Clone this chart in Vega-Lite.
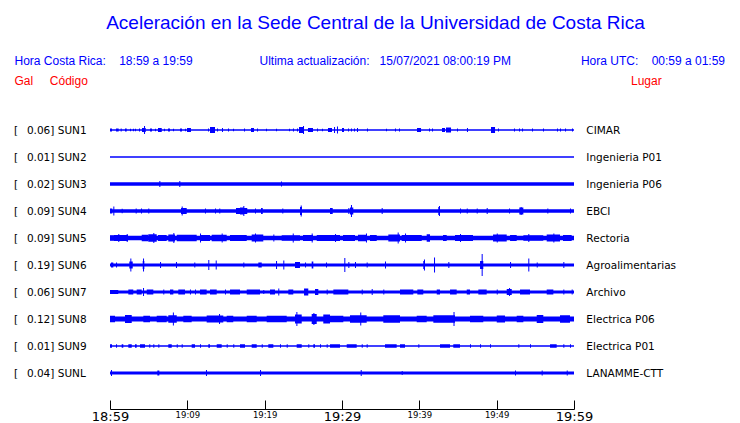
{
  "$schema": "https://vega.github.io/schema/vega-lite/v6.json",
  "width": 464,
  "height": 306,
  "autosize": {"type": "none"},
  "padding": {"left": 110, "right": 166, "top": 103, "bottom": 14},
  "background": "white",
  "config": {"view": {"stroke": null}},
  "title": {"text": "Aceleración en la Sede Central de la Universidad de Costa Rica", "anchor": "middle", "frame": "group", "dx": 33.5, "offset": 7, "baseline": "alphabetic", "font": "Liberation Sans", "fontSize": 19, "fontWeight": "normal", "color": "#0000ff"},
  "datasets": {
    "stations": [
      {"n": 1, "code": "SUN1", "gal": 0.06, "lugar": "CIMAR", "noise": 1.5},
      {"n": 2, "code": "SUN2", "gal": 0.01, "lugar": "Ingenieria P01", "noise": 1.5},
      {"n": 3, "code": "SUN3", "gal": 0.02, "lugar": "Ingenieria P06", "noise": 3.5},
      {"n": 4, "code": "SUN4", "gal": 0.09, "lugar": "EBCI", "noise": 3.5},
      {"n": 5, "code": "SUN5", "gal": 0.09, "lugar": "Rectoria", "noise": 4.5},
      {"n": 6, "code": "SUN6", "gal": 0.19, "lugar": "Agroalimentarias", "noise": 3},
      {"n": 7, "code": "SUN7", "gal": 0.06, "lugar": "Archivo", "noise": 3},
      {"n": 8, "code": "SUN8", "gal": 0.12, "lugar": "Electrica P06", "noise": 5},
      {"n": 9, "code": "SUN9", "gal": 0.01, "lugar": "Electrica P01", "noise": 1.5},
      {"n": 10, "code": "SUNL", "gal": 0.04, "lugar": "LANAMME-CTT", "noise": 3}
    ],
    "traces": [
      {"s":"SUN1","t":0,"t2":0.26,"a":3},{"s":"SUN1","t":0.78,"t2":1.12,"a":3},{"s":"SUN1","t":1.38,"t2":1.51,"a":3},{"s":"SUN1","t":1.94,"t2":2.16,"a":3},{"s":"SUN1","t":2.59,"t2":2.72,"a":2.5},{"s":"SUN1","t":2.97,"t2":3.1,"a":2.5},{"s":"SUN1","t":3.23,"t2":3.36,"a":2.5},{"s":"SUN1","t":3.75,"t2":3.88,"a":3},{"s":"SUN1","t":4.14,"t2":4.62,"a":4},{"s":"SUN1","t":4.4,"t2":4.53,"a":8},{"s":"SUN1","t":5.17,"t2":5.43,"a":3},{"s":"SUN1","t":5.82,"t2":5.95,"a":2.5},{"s":"SUN1","t":6.21,"t2":6.69,"a":4},{"s":"SUN1","t":6.98,"t2":7.11,"a":2.5},{"s":"SUN1","t":7.5,"t2":7.76,"a":3},{"s":"SUN1","t":8.15,"t2":8.28,"a":2.5},{"s":"SUN1","t":9.05,"t2":9.31,"a":3},{"s":"SUN1","t":9.7,"t2":9.83,"a":2.5},{"s":"SUN1","t":9.96,"t2":10.47,"a":4},{"s":"SUN1","t":12.67,"t2":12.8,"a":3},{"s":"SUN1","t":12.93,"t2":13.58,"a":6},{"s":"SUN1","t":13.84,"t2":13.97,"a":3},{"s":"SUN1","t":14.48,"t2":14.61,"a":4},{"s":"SUN1","t":15.26,"t2":15.39,"a":3},{"s":"SUN1","t":15.91,"t2":16.04,"a":2.5},{"s":"SUN1","t":17.33,"t2":17.46,"a":3},{"s":"SUN1","t":18.23,"t2":18.62,"a":4},{"s":"SUN1","t":19.01,"t2":19.14,"a":3},{"s":"SUN1","t":20.17,"t2":20.3,"a":2.5},{"s":"SUN1","t":21.47,"t2":21.6,"a":2.5},{"s":"SUN1","t":23.15,"t2":23.28,"a":2.5},{"s":"SUN1","t":23.66,"t2":23.79,"a":3},{"s":"SUN1","t":24.18,"t2":24.31,"a":3},{"s":"SUN1","t":24.44,"t2":25.09,"a":6},{"s":"SUN1","t":24.96,"t2":25.09,"a":8},{"s":"SUN1","t":25.6,"t2":26.25,"a":4},{"s":"SUN1","t":26.77,"t2":26.9,"a":3},{"s":"SUN1","t":27.41,"t2":27.54,"a":2.5},{"s":"SUN1","t":28.19,"t2":28.71,"a":4},{"s":"SUN1","t":28.97,"t2":29.1,"a":6},{"s":"SUN1","t":29.35,"t2":29.48,"a":7},{"s":"SUN1","t":30,"t2":30.26,"a":4},{"s":"SUN1","t":30.78,"t2":30.91,"a":3},{"s":"SUN1","t":31.16,"t2":31.29,"a":3},{"s":"SUN1","t":31.55,"t2":31.68,"a":3},{"s":"SUN1","t":31.94,"t2":32.07,"a":4},{"s":"SUN1","t":33.23,"t2":33.36,"a":3},{"s":"SUN1","t":35.69,"t2":35.82,"a":2.5},{"s":"SUN1","t":36.85,"t2":36.98,"a":3},{"s":"SUN1","t":37.37,"t2":37.5,"a":3},{"s":"SUN1","t":39.7,"t2":40.22,"a":4},{"s":"SUN1","t":41.25,"t2":41.38,"a":3},{"s":"SUN1","t":41.64,"t2":41.77,"a":3},{"s":"SUN1","t":42.93,"t2":43.32,"a":4},{"s":"SUN1","t":43.45,"t2":44.1,"a":5},{"s":"SUN1","t":44.87,"t2":45,"a":3},{"s":"SUN1","t":46.16,"t2":46.29,"a":4},{"s":"SUN1","t":49.27,"t2":49.79,"a":6},{"s":"SUN1","t":50.17,"t2":50.3,"a":3},{"s":"SUN1","t":52.24,"t2":52.37,"a":3},{"s":"SUN1","t":52.89,"t2":53.02,"a":3},{"s":"SUN1","t":53.28,"t2":53.41,"a":3},{"s":"SUN1","t":54.57,"t2":54.7,"a":3},{"s":"SUN1","t":55.99,"t2":56.12,"a":3},{"s":"SUN1","t":57.8,"t2":57.93,"a":3},{"s":"SUN1","t":58.19,"t2":58.32,"a":3},{"s":"SUN1","t":58.84,"t2":58.97,"a":3},{"s":"SUN1","t":59.74,"t2":59.87,"a":3},
      {"s":"SUN3","t":6.38,"t2":6.51,"a":6},{"s":"SUN3","t":8.96,"t2":9.09,"a":6},{"s":"SUN3","t":22.11,"t2":22.24,"a":5},
      {"s":"SUN4","t":0,"t2":0.3,"a":5},{"s":"SUN4","t":0.43,"t2":0.56,"a":9},{"s":"SUN4","t":1.51,"t2":1.64,"a":4.5},{"s":"SUN4","t":3.32,"t2":3.45,"a":5},{"s":"SUN4","t":4.01,"t2":4.14,"a":5},{"s":"SUN4","t":4.95,"t2":5.08,"a":5},{"s":"SUN4","t":9.18,"t2":9.92,"a":6},{"s":"SUN4","t":9.27,"t2":9.4,"a":9},{"s":"SUN4","t":12.28,"t2":12.41,"a":5},{"s":"SUN4","t":13.58,"t2":13.71,"a":5},{"s":"SUN4","t":14.13,"t2":14.26,"a":5},{"s":"SUN4","t":16.29,"t2":17.75,"a":6},{"s":"SUN4","t":16.81,"t2":17.33,"a":7},{"s":"SUN4","t":17.24,"t2":17.37,"a":10},{"s":"SUN4","t":18.75,"t2":18.88,"a":5},{"s":"SUN4","t":19.53,"t2":19.75,"a":6},{"s":"SUN4","t":22.28,"t2":22.41,"a":5},{"s":"SUN4","t":24.57,"t2":24.83,"a":8},{"s":"SUN4","t":24.66,"t2":24.79,"a":11},{"s":"SUN4","t":28.45,"t2":28.8,"a":6},{"s":"SUN4","t":30.82,"t2":30.95,"a":6},{"s":"SUN4","t":31.03,"t2":31.46,"a":7},{"s":"SUN4","t":31.16,"t2":31.29,"a":12},{"s":"SUN4","t":35.13,"t2":35.26,"a":6},{"s":"SUN4","t":42.45,"t2":42.67,"a":8},{"s":"SUN4","t":42.54,"t2":42.67,"a":10},{"s":"SUN4","t":45.26,"t2":45.39,"a":5},{"s":"SUN4","t":46.13,"t2":46.26,"a":5},{"s":"SUN4","t":47.42,"t2":47.55,"a":5},{"s":"SUN4","t":48.71,"t2":48.84,"a":6},{"s":"SUN4","t":51.6,"t2":51.73,"a":5},{"s":"SUN4","t":52.93,"t2":53.45,"a":7},{"s":"SUN4","t":53.1,"t2":53.23,"a":8},{"s":"SUN4","t":56.55,"t2":56.68,"a":5},{"s":"SUN4","t":59.48,"t2":59.61,"a":5},
      {"s":"SUN5","t":0,"t2":0.43,"a":5.5},{"s":"SUN5","t":0.43,"t2":2.33,"a":6},{"s":"SUN5","t":4.1,"t2":4.95,"a":6.5},{"s":"SUN5","t":4.95,"t2":6.04,"a":7.5},{"s":"SUN5","t":5.6,"t2":5.73,"a":10},{"s":"SUN5","t":6.21,"t2":7.33,"a":6},{"s":"SUN5","t":7.54,"t2":8.41,"a":7},{"s":"SUN5","t":8.19,"t2":8.32,"a":10},{"s":"SUN5","t":8.63,"t2":11.21,"a":6.5},{"s":"SUN5","t":11.64,"t2":12.93,"a":6},{"s":"SUN5","t":13.15,"t2":15.09,"a":6.5},{"s":"SUN5","t":15.52,"t2":17.68,"a":6},{"s":"SUN5","t":18.32,"t2":19.82,"a":7},{"s":"SUN5","t":21.12,"t2":21.25,"a":7},{"s":"SUN5","t":22.2,"t2":24.57,"a":5.5},{"s":"SUN5","t":23.63,"t2":23.76,"a":9},{"s":"SUN5","t":24.96,"t2":26.25,"a":6},{"s":"SUN5","t":26.73,"t2":29.74,"a":6},{"s":"SUN5","t":29.1,"t2":29.23,"a":8},{"s":"SUN5","t":30.13,"t2":31.68,"a":6},{"s":"SUN5","t":32.07,"t2":33.19,"a":6.5},{"s":"SUN5","t":33.62,"t2":34.49,"a":6},{"s":"SUN5","t":35.99,"t2":37.5,"a":7},{"s":"SUN5","t":37.2,"t2":37.33,"a":11},{"s":"SUN5","t":37.72,"t2":40.31,"a":6},{"s":"SUN5","t":40.95,"t2":41.38,"a":7.5},{"s":"SUN5","t":43.06,"t2":43.54,"a":6},{"s":"SUN5","t":44.61,"t2":46.94,"a":6},{"s":"SUN5","t":49.53,"t2":51.3,"a":7},{"s":"SUN5","t":51.73,"t2":52.59,"a":6},{"s":"SUN5","t":53.45,"t2":56.03,"a":5.5},{"s":"SUN5","t":56.47,"t2":58.19,"a":7},{"s":"SUN5","t":58.58,"t2":59.7,"a":6},{"s":"SUN5","t":1.07,"t2":1.2,"a":8},{"s":"SUN5","t":2.16,"t2":2.29,"a":8},{"s":"SUN5","t":11.64,"t2":11.77,"a":9},{"s":"SUN5","t":14.44,"t2":14.57,"a":9},{"s":"SUN5","t":18.75,"t2":18.88,"a":9},{"s":"SUN5","t":26.08,"t2":26.21,"a":9},{"s":"SUN5","t":33.1,"t2":33.23,"a":9},{"s":"SUN5","t":38.15,"t2":38.28,"a":9},{"s":"SUN5","t":45.26,"t2":45.39,"a":8},{"s":"SUN5","t":50.01,"t2":50.14,"a":9},{"s":"SUN5","t":54.09,"t2":54.22,"a":8},{"s":"SUN5","t":57.33,"t2":57.46,"a":9},
      {"s":"SUN6","t":0.13,"t2":0.43,"a":5},{"s":"SUN6","t":0.78,"t2":0.91,"a":5},{"s":"SUN6","t":2.5,"t2":2.94,"a":7},{"s":"SUN6","t":2.63,"t2":2.76,"a":13},{"s":"SUN6","t":4.23,"t2":4.44,"a":8},{"s":"SUN6","t":4.27,"t2":4.4,"a":13},{"s":"SUN6","t":6.47,"t2":6.6,"a":6},{"s":"SUN6","t":8.53,"t2":8.66,"a":6},{"s":"SUN6","t":10.9,"t2":11.03,"a":5},{"s":"SUN6","t":12.71,"t2":12.84,"a":10},{"s":"SUN6","t":13.67,"t2":13.8,"a":9},{"s":"SUN6","t":17.24,"t2":17.37,"a":5},{"s":"SUN6","t":19.18,"t2":19.62,"a":5},{"s":"SUN6","t":21.47,"t2":21.6,"a":8},{"s":"SUN6","t":22.41,"t2":22.54,"a":9},{"s":"SUN6","t":23.92,"t2":24.57,"a":6},{"s":"SUN6","t":25.22,"t2":25.35,"a":5},{"s":"SUN6","t":26.08,"t2":26.29,"a":7},{"s":"SUN6","t":27.93,"t2":28.06,"a":5},{"s":"SUN6","t":30.3,"t2":30.43,"a":14},{"s":"SUN6","t":30.82,"t2":30.95,"a":6},{"s":"SUN6","t":31.68,"t2":31.81,"a":6},{"s":"SUN6","t":33.19,"t2":33.32,"a":5},{"s":"SUN6","t":35.56,"t2":35.69,"a":7},{"s":"SUN6","t":40.51,"t2":40.73,"a":8},{"s":"SUN6","t":40.6,"t2":40.73,"a":11},{"s":"SUN6","t":41.9,"t2":42.03,"a":15},{"s":"SUN6","t":43.75,"t2":43.88,"a":6},{"s":"SUN6","t":47.85,"t2":48.27,"a":8},{"s":"SUN6","t":48.06,"t2":48.19,"a":22},{"s":"SUN6","t":51.73,"t2":51.86,"a":6},{"s":"SUN6","t":54.09,"t2":54.22,"a":13},{"s":"SUN6","t":55.18,"t2":55.31,"a":5},{"s":"SUN6","t":58.62,"t2":58.75,"a":6},
      {"s":"SUN7","t":0,"t2":1.07,"a":4},{"s":"SUN7","t":2.37,"t2":3.01,"a":5},{"s":"SUN7","t":3.45,"t2":4.1,"a":5},{"s":"SUN7","t":4.27,"t2":4.4,"a":8},{"s":"SUN7","t":4.75,"t2":5.6,"a":5},{"s":"SUN7","t":6.89,"t2":7.02,"a":5},{"s":"SUN7","t":7.76,"t2":8.19,"a":5},{"s":"SUN7","t":8.83,"t2":9.7,"a":5},{"s":"SUN7","t":10.34,"t2":10.47,"a":5},{"s":"SUN7","t":10.99,"t2":11.12,"a":5},{"s":"SUN7","t":11.64,"t2":12.5,"a":5},{"s":"SUN7","t":12.93,"t2":13.8,"a":5},{"s":"SUN7","t":14.87,"t2":15,"a":5},{"s":"SUN7","t":15.52,"t2":16.81,"a":5},{"s":"SUN7","t":17.68,"t2":19.4,"a":5},{"s":"SUN7","t":19.82,"t2":19.95,"a":4},{"s":"SUN7","t":20.69,"t2":21.34,"a":5},{"s":"SUN7","t":21.76,"t2":21.89,"a":7},{"s":"SUN7","t":23.06,"t2":23.7,"a":5},{"s":"SUN7","t":25.09,"t2":25.64,"a":7},{"s":"SUN7","t":26.51,"t2":26.94,"a":6},{"s":"SUN7","t":28.02,"t2":28.15,"a":5},{"s":"SUN7","t":28.88,"t2":30.82,"a":5},{"s":"SUN7","t":32.55,"t2":32.68,"a":5},{"s":"SUN7","t":33.84,"t2":33.97,"a":6},{"s":"SUN7","t":35.34,"t2":35.47,"a":5},{"s":"SUN7","t":37.5,"t2":39.22,"a":5},{"s":"SUN7","t":39.74,"t2":40.51,"a":5},{"s":"SUN7","t":42.25,"t2":42.67,"a":5},{"s":"SUN7","t":43.97,"t2":44.83,"a":5},{"s":"SUN7","t":46.13,"t2":46.55,"a":5},{"s":"SUN7","t":47.63,"t2":48.71,"a":5},{"s":"SUN7","t":50.01,"t2":50.14,"a":5},{"s":"SUN7","t":51.3,"t2":51.95,"a":6},{"s":"SUN7","t":51.6,"t2":51.73,"a":8},{"s":"SUN7","t":53.02,"t2":54.31,"a":5},{"s":"SUN7","t":56.47,"t2":57.33,"a":5},{"s":"SUN7","t":58.62,"t2":58.75,"a":5},{"s":"SUN7","t":59.7,"t2":59.83,"a":5},
      {"s":"SUN8","t":0,"t2":0.65,"a":6.5},{"s":"SUN8","t":1.94,"t2":2.81,"a":8},{"s":"SUN8","t":4.31,"t2":5.17,"a":6.5},{"s":"SUN8","t":6.04,"t2":7.33,"a":6.5},{"s":"SUN8","t":7.54,"t2":8.63,"a":7.5},{"s":"SUN8","t":8.13,"t2":8.26,"a":13},{"s":"SUN8","t":9.48,"t2":10.56,"a":6.5},{"s":"SUN8","t":12.5,"t2":14.65,"a":7},{"s":"SUN8","t":14.1,"t2":14.23,"a":10},{"s":"SUN8","t":15.09,"t2":15.94,"a":6.5},{"s":"SUN8","t":17.68,"t2":18.97,"a":6.5},{"s":"SUN8","t":20.26,"t2":22.85,"a":6.5},{"s":"SUN8","t":23.92,"t2":24.79,"a":9},{"s":"SUN8","t":24.1,"t2":24.23,"a":14},{"s":"SUN8","t":26.08,"t2":26.73,"a":10},{"s":"SUN8","t":26.3,"t2":26.43,"a":12},{"s":"SUN8","t":27.58,"t2":28.45,"a":9},{"s":"SUN8","t":28.45,"t2":30.17,"a":6.5},{"s":"SUN8","t":31.03,"t2":33.19,"a":7.5},{"s":"SUN8","t":32.36,"t2":32.49,"a":13},{"s":"SUN8","t":35.34,"t2":37.5,"a":7.5},{"s":"SUN8","t":39.66,"t2":40.95,"a":6.5},{"s":"SUN8","t":41.81,"t2":44.61,"a":7.5},{"s":"SUN8","t":44.42,"t2":44.55,"a":14},{"s":"SUN8","t":46.55,"t2":48.27,"a":6.5},{"s":"SUN8","t":50.01,"t2":51.08,"a":7},{"s":"SUN8","t":52.59,"t2":53.45,"a":6.5},{"s":"SUN8","t":55.18,"t2":56.03,"a":8},{"s":"SUN8","t":58.19,"t2":59.48,"a":7.5},
      {"s":"SUN9","t":0,"t2":0.26,"a":3.5},{"s":"SUN9","t":0.78,"t2":0.91,"a":3.5},{"s":"SUN9","t":1.51,"t2":1.72,"a":3.5},{"s":"SUN9","t":2.37,"t2":2.81,"a":3.5},{"s":"SUN9","t":3.23,"t2":3.45,"a":3.5},{"s":"SUN9","t":3.88,"t2":4.53,"a":3.5},{"s":"SUN9","t":5.08,"t2":5.21,"a":3.5},{"s":"SUN9","t":5.6,"t2":5.73,"a":3.5},{"s":"SUN9","t":6.25,"t2":6.38,"a":3.5},{"s":"SUN9","t":7.54,"t2":7.98,"a":3.5},{"s":"SUN9","t":8.63,"t2":8.76,"a":3.5},{"s":"SUN9","t":9.27,"t2":9.4,"a":3.5},{"s":"SUN9","t":10.56,"t2":10.99,"a":3.5},{"s":"SUN9","t":11.64,"t2":11.77,"a":3.5},{"s":"SUN9","t":12.71,"t2":12.93,"a":3.5},{"s":"SUN9","t":13.8,"t2":14.44,"a":3.5},{"s":"SUN9","t":15.09,"t2":15.22,"a":3.5},{"s":"SUN9","t":15.94,"t2":16.07,"a":3.5},{"s":"SUN9","t":16.81,"t2":17.46,"a":3.5},{"s":"SUN9","t":18.32,"t2":18.97,"a":3.5},{"s":"SUN9","t":19.62,"t2":19.75,"a":3.5},{"s":"SUN9","t":20.47,"t2":21.12,"a":3.5},{"s":"SUN9","t":21.98,"t2":22.11,"a":3.5},{"s":"SUN9","t":22.85,"t2":22.98,"a":3.5},{"s":"SUN9","t":24.14,"t2":24.79,"a":3.5},{"s":"SUN9","t":25.64,"t2":25.77,"a":3.5},{"s":"SUN9","t":26.29,"t2":26.51,"a":3.5},{"s":"SUN9","t":27.16,"t2":27.29,"a":3.5},{"s":"SUN9","t":28.02,"t2":28.15,"a":3.5},{"s":"SUN9","t":28.45,"t2":29.74,"a":3.5},{"s":"SUN9","t":30.61,"t2":31.9,"a":3.5},{"s":"SUN9","t":32.55,"t2":32.68,"a":3.5},{"s":"SUN9","t":33.19,"t2":33.32,"a":3.5},{"s":"SUN9","t":35.56,"t2":37.07,"a":3.5},{"s":"SUN9","t":37.5,"t2":38.15,"a":3.5},{"s":"SUN9","t":39.87,"t2":40,"a":3.5},{"s":"SUN9","t":42.67,"t2":43.97,"a":3.5},{"s":"SUN9","t":44.39,"t2":45.26,"a":3.5},{"s":"SUN9","t":46.55,"t2":46.68,"a":3.5},{"s":"SUN9","t":47.85,"t2":47.98,"a":3.5},{"s":"SUN9","t":49.14,"t2":49.27,"a":3.5},{"s":"SUN9","t":52.8,"t2":52.93,"a":3.5},{"s":"SUN9","t":54.31,"t2":54.44,"a":3.5},{"s":"SUN9","t":56.9,"t2":57.76,"a":3.5},{"s":"SUN9","t":58.62,"t2":58.75,"a":3.5},{"s":"SUN9","t":59.48,"t2":59.61,"a":3.5},
      {"s":"SUNL","t":0.13,"t2":0.26,"a":6},{"s":"SUNL","t":6.12,"t2":6.38,"a":5},{"s":"SUNL","t":12.41,"t2":12.54,"a":6},{"s":"SUNL","t":19.4,"t2":19.53,"a":6},{"s":"SUNL","t":32.42,"t2":32.55,"a":6},{"s":"SUNL","t":37.72,"t2":37.85,"a":4},{"s":"SUNL","t":52.37,"t2":52.5,"a":5},{"s":"SUNL","t":55.82,"t2":55.95,"a":5},{"s":"SUNL","t":59.06,"t2":59.19,"a":5}
    ]
  },
  "layer": [
    {
      "data": {"name": "traces"},
      "transform": [{"lookup": "s", "from": {"data": {"name": "stations"}, "key": "code", "fields": ["n"]}}],
      "mark": {"type": "rule", "color": "#0000ff", "strokeCap": "butt"},
      "encoding": {
        "x": {"field": "t", "type": "quantitative",
              "scale": {"domain": [0, 60], "nice": false, "zero": false},
              "axis": {"title": null, "values": [0,5,10,15,20,25,30,35,40,45,50,55,60],
                       "labelExpr": "datum.value % 10 ? '' : floor((1139 + datum.value) / 60) + ':' + (((1139 + datum.value) % 60) < 10 ? '0' : '') + ((1139 + datum.value) % 60)",
                       "labelFont": "DejaVu Sans", "labelColor": "#000000",
                       "labelFontSize": {"condition": {"test": "datum.value % 30 === 0", "value": 13}, "value": 8.5},
                       "labelBaseline": "top", "labelPadding": 10.5, "labelFlush": false, "labelOverlap": false, "labelBound": false,
                       "tickSize": -9, "tickColor": "#000000", "tickWidth": 1,
                       "domainColor": "#000000", "domainWidth": 1, "grid": false}},
        "x2": {"field": "t2"},
        "y": {"field": "n", "type": "quantitative", "axis": null,
              "scale": {"domain": [0, 11.3333], "reverse": true, "nice": false, "zero": false}},
        "size": {"field": "a", "type": "quantitative", "legend": null,
                 "scale": {"type": "linear", "domain": [0, 25], "range": [0, 25]}}
      }
    },
    {
      "data": {"name": "stations"},
      "mark": {"type": "rule", "color": "#0000ff", "strokeCap": "butt"},
      "encoding": {
        "x": {"datum": 0, "type": "quantitative"},
        "x2": {"datum": 60},
        "y": {"field": "n", "type": "quantitative"},
        "size": {"field": "noise", "type": "quantitative", "legend": null}
      }
    },
    {
      "data": {"name": "stations"},
      "transform": [{"calculate": "'[\u00a0\u00a0\u2009' + format(datum.gal, '.2f') + ']\u00a0' + datum.code", "as": "label"}],
      "mark": {"type": "text", "align": "left", "baseline": "middle", "dy": 1, "font": "DejaVu Sans", "fontSize": 10.5, "color": "#000000"},
      "encoding": {
        "x": {"datum": -12.41, "type": "quantitative"},
        "y": {"field": "n", "type": "quantitative"},
        "text": {"field": "label"}
      }
    },
    {
      "data": {"name": "stations"},
      "mark": {"type": "text", "align": "left", "baseline": "middle", "dy": 1, "font": "DejaVu Sans", "fontSize": 10.5, "color": "#000000"},
      "encoding": {
        "x": {"datum": 61.6, "type": "quantitative"},
        "y": {"field": "n", "type": "quantitative"},
        "text": {"field": "lugar"}
      }
    },
    {
      "data": {"values": [{}]},
      "mark": {"type": "text", "align": "left", "baseline": "middle", "font": "Liberation Sans", "fontSize": 12, "color": "#0000ff", "text": "Hora Costa Rica:\u00a0\u00a0\u00a0\u00a018:59 a 19:59"},
      "encoding": {"x": {"datum": -12.35, "type": "quantitative"}, "y": {"datum": -1.56, "type": "quantitative"}}
    },
    {
      "data": {"values": [{}]},
      "mark": {"type": "text", "align": "left", "baseline": "middle", "font": "Liberation Sans", "fontSize": 12, "color": "#0000ff", "text": "Ultima actualización:\u00a0\u00a0\u00a015/07/2021 08:00:19 PM"},
      "encoding": {"x": {"datum": 19.33, "type": "quantitative"}, "y": {"datum": -1.56, "type": "quantitative"}}
    },
    {
      "data": {"values": [{}]},
      "mark": {"type": "text", "align": "right", "baseline": "middle", "font": "Liberation Sans", "fontSize": 12, "color": "#0000ff", "text": "Hora UTC:\u00a0\u00a0\u00a0\u00a000:59 a 01:59"},
      "encoding": {"x": {"datum": 79.53, "type": "quantitative"}, "y": {"datum": -1.56, "type": "quantitative"}}
    },
    {
      "data": {"values": [{}]},
      "mark": {"type": "text", "align": "left", "baseline": "middle", "font": "Liberation Sans", "fontSize": 12, "color": "#ff0000", "text": "Gal\u00a0\u00a0\u00a0\u00a0\u00a0Código"},
      "encoding": {"x": {"datum": -12.35, "type": "quantitative"}, "y": {"datum": -0.815, "type": "quantitative"}}
    },
    {
      "data": {"values": [{}]},
      "mark": {"type": "text", "align": "left", "baseline": "middle", "font": "Liberation Sans", "fontSize": 12, "color": "#ff0000", "text": "Lugar"},
      "encoding": {"x": {"datum": 67.37, "type": "quantitative"}, "y": {"datum": -0.815, "type": "quantitative"}}
    }
  ]
}
